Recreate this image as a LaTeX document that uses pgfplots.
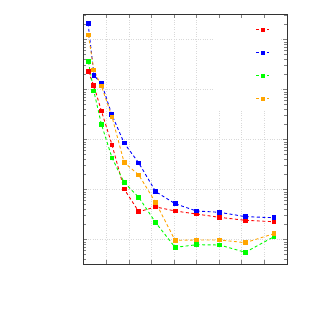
\documentclass[border=0pt]{standalone}
\usepackage{pgfplots}
\pgfplotsset{compat=1.18}
\definecolor{cred}{RGB}{255,0,0}
\definecolor{cblue}{RGB}{0,0,255}
\definecolor{cgreen}{RGB}{0,255,0}
\definecolor{corange}{RGB}{255,165,0}
\begin{document}
\begin{tikzpicture}
\path[use as bounding box] (0bp,0bp) rectangle (314bp,314bp);
\begin{axis}[
  at={(83bp,50bp)}, anchor=south west, scale only axis,
  width=204bp, height=250bp,
  xmin=-0.04, xmax=9.02, ymode=log, ymin=0.321, ymax=32140,
  xtick={1,...,8}, xticklabels={}, yticklabels={},
  grid=major, grid style={dotted, gray!30, line width=0.4pt},
  axis line style={line width=0.6pt, black!80},
  every axis plot/.append style={dash pattern=on 3bp off 2.5bp, line width=0.9bp, mark=square*, mark size=1.9bp, mark options={solid}},
  legend plot pos=right,
  legend image code/.code={\draw[#1, mark repeat=2, mark phase=2] plot coordinates {(0bp,0bp) (6.5bp,0bp) (13bp,0bp)};},
  legend style={at={(0.966,0.982)}, anchor=north east, draw=none, fill=white, inner xsep=10bp, inner ysep=4.5bp, row sep=9.5bp, nodes={inner sep=2bp}},
]
\addplot[cred] coordinates {(0.20,2254) (0.44,1183) (0.778,369) (1.25,77.1) (1.784,10.2) (2.436,3.57) (3.19,4.44) (4.05,3.69) (4.996,3.21) (6.03,2.75) (7.17,2.40) (8.44,2.25)};
\addlegendentry{\rule[-5bp]{0pt}{13bp}\hspace*{29bp}}
\addplot[cblue] coordinates {(0.186,20900) (0.45,1875) (0.778,1340) (1.237,316) (1.784,84.5) (2.436,33.7) (3.19,8.97) (4.05,5.16) (4.996,3.69) (6.03,3.47) (7.17,2.84) (8.44,2.71)};
\addlegendentry{\rule[-5bp]{0pt}{13bp}\hspace*{29bp}}
\addplot[cgreen] coordinates {(0.20,3573) (0.44,927) (0.778,200) (1.25,42.4) (1.784,13.8) (2.436,6.92) (3.19,2.15) (4.05,0.69) (4.996,0.78) (6.03,0.77) (7.17,0.55) (8.44,1.13)};
\addlegendentry{\rule[-5bp]{0pt}{13bp}\hspace*{29bp}}
\addplot[corange] coordinates {(0.20,12220) (0.44,2438) (0.778,1167) (1.25,280) (1.784,34.7) (2.436,19.4) (3.19,5.41) (4.05,0.955) (4.996,0.97) (6.03,0.97) (7.17,0.857) (8.44,1.30)};
\addlegendentry{\rule[-5bp]{0pt}{13bp}\hspace*{29bp}}
\end{axis}
\end{tikzpicture}
\end{document}
